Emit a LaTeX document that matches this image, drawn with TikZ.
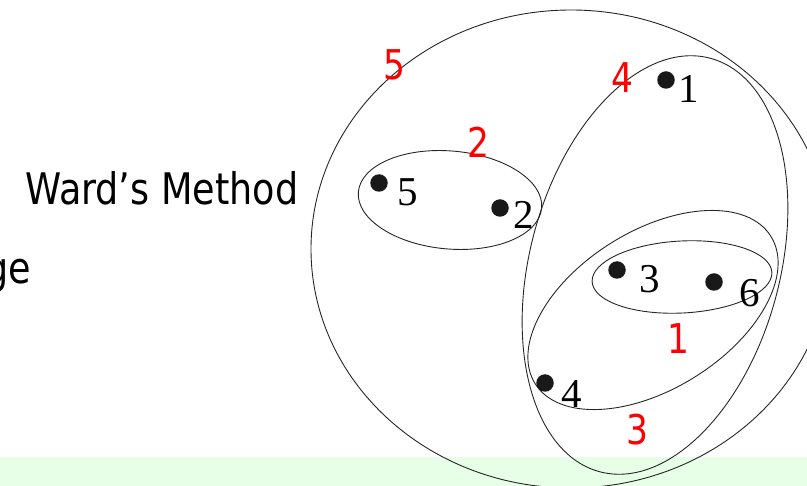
\documentclass[tikz,border=0pt]{standalone}
\usepackage{fontspec}
\usepackage{tikz}
\usetikzlibrary{positioning}
\newfontfamily\wardfont[FakeStretch=0.84]{DejaVu Sans}
\newfontfamily\pointfont{Liberation Serif}
\definecolor{stripgreen}{RGB}{230,255,230}
\tikzset{
    cluster/.style={
        draw=black!85,
        line width=0.9pt
    },
    dataDot/.style={
        circle,
        fill=black!90,
        inner sep=0pt,
        minimum size=17.5pt
    },
    pointLabel/.style={
        font=\pointfont\fontsize{41}{41}\selectfont,
        inner sep=0pt
    },
    mergeLabel/.style={
        font=\wardfont\fontsize{41}{41}\selectfont,
        text=red,
        inner sep=0pt
    },
    slideText/.style={
        font=\wardfont\fontsize{43.5}{50}\selectfont,
        inner sep=0pt
    },
}

\begin{document}
\begin{tikzpicture}[x=1pt, y=-1pt]
    \clip (0,0) rectangle (807,486);

    % Green strip at the bottom
    \fill[stripgreen] (0,457) rectangle (807,486);

    % Slide text on the left
    \node[slideText, anchor=base west] (ward) at (25,205) {Ward’s Method};
    \node[slideText, anchor=base east] (ge) at (31,284) {ge};

    % Nested clusters
    \draw[cluster] (571,249) ellipse [x radius=260, y radius=239];
    \draw[cluster, rotate around={75:(655,265)}] (655,265) ellipse [x radius=214, y radius=125];
    \draw[cluster, rotate around={32:(653,310)}] (653,310) ellipse [x radius=139, y radius=79];
    \draw[cluster, rotate around={3:(682,277)}] (682,277) ellipse [x radius=90, y radius=36];
    \draw[cluster, rotate around={-5:(450,200)}] (450,200) ellipse [x radius=92, y radius=49];

    % Data points
    \node[dataDot] (p1) at (666,80) {};
    \node[dataDot] (p2) at (500,208) {};
    \node[dataDot] (p3) at (617,270) {};
    \node[dataDot] (p4) at (545,383) {};
    \node[dataDot] (p5) at (379,183) {};
    \node[dataDot] (p6) at (714,282) {};

    \node[pointLabel] (l1) at (688.5,89) {1};
    \node[pointLabel] (l2) at (524,215) {2};
    \node[pointLabel] (l3) at (649.5,279) {3};
    \node[pointLabel] (l4) at (572,394) {4};
    \node[pointLabel] (l5) at (407.5,192.5) {5};
    \node[pointLabel] (l6) at (749.5,293.5) {6};

    % Merge order
    \node[mergeLabel] (m1) at (678.5,338.5) {1};
    \node[mergeLabel] (m2) at (478,142) {2};
    \node[mergeLabel] (m3) at (637,430) {3};
    \node[mergeLabel] (m4) at (622.5,78) {4};
    \node[mergeLabel] (m5) at (394,65) {5};

\end{tikzpicture}
\end{document}
